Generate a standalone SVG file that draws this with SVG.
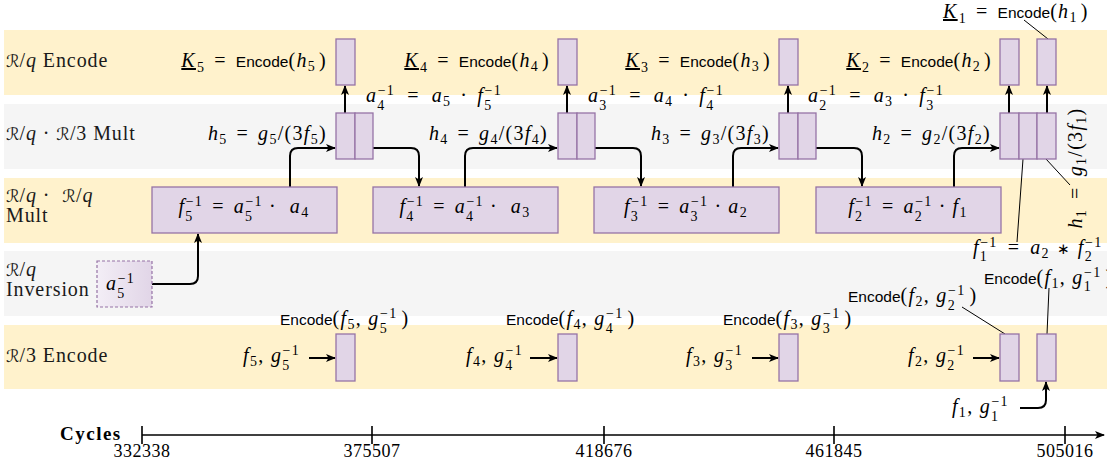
<svg xmlns="http://www.w3.org/2000/svg" width="1107" height="465" viewBox="0 0 1107 465">
<style>
.lane-y{fill:#fff2cc}
.lane-g{fill:#f5f5f5}
.box{fill:#e1d5e7;stroke:#9673a6;stroke-width:1.3}
.inv{fill:url(#invg);stroke:#9673a6;stroke-width:1.2;stroke-dasharray:3 2}
.lane{font-family:"Liberation Serif",serif;font-size:20px;letter-spacing:0.9px;fill:#1a1a1a}
.cal{font-family:"DejaVu Serif","DejaVu Sans",serif;font-size:17px;font-style:normal;letter-spacing:0}
.i{font-style:italic}
.m{font-family:"Liberation Serif",serif;font-size:20px;font-style:italic;letter-spacing:1.3px;fill:#000}
.u{font-style:normal}
.sb{font-size:14px;font-style:normal}
.ast{font-family:"DejaVu Sans",sans-serif;font-size:15px;font-style:normal}
.sf{font-family:"Liberation Sans",sans-serif;font-size:15.5px;font-style:normal;letter-spacing:0}
.conn{fill:none;stroke:#000;stroke-width:2;marker-end:url(#ah)}
.lead{fill:none;stroke:#000;stroke-width:1}
.ax{fill:none;stroke:#000;stroke-width:1.6}
.axl{font-family:"Liberation Serif",serif;font-size:18px;letter-spacing:0.5px;fill:#000}
.cyc{font-family:"Liberation Serif",serif;font-size:19px;font-weight:bold;letter-spacing:1.5px;fill:#000}
</style>
<defs>
<linearGradient id="invg" x1="0" y1="0" x2="1" y2="0">
<stop offset="0" stop-color="#f3eef6"/>
<stop offset="1" stop-color="#e1d5e7"/>
</linearGradient>
<marker id="ah" viewBox="0 0 10 8" refX="9" refY="4" markerWidth="10" markerHeight="8" markerUnits="userSpaceOnUse" orient="auto">
<path d="M0,0 L10,4 L0,8 L2.5,4 z" fill="#000"/>
</marker>
</defs>

<g id="lanes">
<rect class="lane-y" x="4" y="30" width="1103" height="65"/>
<rect class="lane-g" x="4" y="104" width="1103" height="65"/>
<rect class="lane-y" x="4" y="178" width="1103" height="65"/>
<rect class="lane-g" x="4" y="251" width="1103" height="65"/>
<rect class="lane-y" x="4" y="325" width="1103" height="64"/>
<text class="lane" x="6" y="67"><tspan class="cal">ℛ</tspan>/<tspan class="i">q</tspan> Encode</text>
<text class="lane" x="6" y="140"><tspan class="cal">ℛ</tspan>/<tspan class="i">q</tspan> · <tspan class="cal">ℛ</tspan>/3 Mult</text>
<text class="lane" x="6" y="202"><tspan class="cal">ℛ</tspan>/<tspan class="i">q</tspan> ·  <tspan class="cal" dx="6">ℛ</tspan>/<tspan class="i">q</tspan></text>
<text class="lane" x="6" y="222">Mult</text>
<text class="lane" x="6" y="276"><tspan class="cal">ℛ</tspan>/<tspan class="i">q</tspan></text>
<text class="lane" x="6" y="296">Inversion</text>
<text class="lane" x="6" y="362"><tspan class="cal">ℛ</tspan>/3 Encode</text>
</g>

<g id="connectors">
<path class="conn" d="M345 113 V86"/>
<path class="conn" d="M567 113 V86"/>
<path class="conn" d="M788 113 V86"/>
<path class="conn" d="M1009 113 V86"/>
<path class="conn" d="M1047 113 V86"/>
<path class="conn" d="M290 187 V156 Q290 148 298 148 H335"/>
<path class="conn" d="M373 148 H411 Q419 148 419 156 V186"/>
<path class="conn" d="M465 187 V156 Q465 148 473 148 H557"/>
<path class="conn" d="M595 148 H633 Q641 148 641 156 V186"/>
<path class="conn" d="M733 187 V156 Q733 148 741 148 H778"/>
<path class="conn" d="M816 148 H854 Q862 148 862 156 V186"/>
<path class="conn" d="M954 187 V156 Q954 148 962 148 H999"/>
<path class="conn" d="M152 284 H190 Q198 284 198 276 V234"/>
<path class="conn" d="M309 358 H335"/>
<path class="conn" d="M530 358 H557"/>
<path class="conn" d="M752 358 H778"/>
<path class="conn" d="M973 358 H999"/>
<path class="conn" d="M1020 408 H1038 Q1046 408 1046 400 V382"/>
<path class="lead" d="M1024 20 L1048 39"/>
<path class="lead" d="M1046 159 L1070 185"/>
<path class="lead" d="M1023 159 L1017 242"/>
<path class="lead" d="M962 307 L1005 334"/>
<path class="lead" d="M1049 288 L1047 334"/>
</g>

<g id="enc-k5">
<rect class="box" x="336" y="39" width="19" height="46"/>
<text class="m" x="327" y="67" text-anchor="end"><tspan text-decoration="underline">K</tspan><tspan class="sb" dx="1" dy="5">5</tspan><tspan class="u" dx="9" dy="-5">=</tspan><tspan class="sf" dx="9">Encode</tspan><tspan class="u">(</tspan>h<tspan class="sb" dy="4">5</tspan><tspan class="u" dx="3" dy="-4">)</tspan></text>
</g>
<g id="enc-k4">
<rect class="box" x="558" y="39" width="19" height="46"/>
<text class="m" x="550" y="67" text-anchor="end"><tspan text-decoration="underline">K</tspan><tspan class="sb" dx="1" dy="5">4</tspan><tspan class="u" dx="9" dy="-5">=</tspan><tspan class="sf" dx="9">Encode</tspan><tspan class="u">(</tspan>h<tspan class="sb" dy="4">4</tspan><tspan class="u" dx="3" dy="-4">)</tspan></text>
</g>
<g id="enc-k3">
<rect class="box" x="779" y="39" width="19" height="46"/>
<text class="m" x="771" y="67" text-anchor="end"><tspan text-decoration="underline">K</tspan><tspan class="sb" dx="1" dy="5">3</tspan><tspan class="u" dx="9" dy="-5">=</tspan><tspan class="sf" dx="9">Encode</tspan><tspan class="u">(</tspan>h<tspan class="sb" dy="4">3</tspan><tspan class="u" dx="3" dy="-4">)</tspan></text>
</g>
<g id="enc-k2">
<rect class="box" x="1000" y="39" width="19" height="46"/>
<text class="m" x="992" y="67" text-anchor="end"><tspan text-decoration="underline">K</tspan><tspan class="sb" dx="1" dy="5">2</tspan><tspan class="u" dx="9" dy="-5">=</tspan><tspan class="sf" dx="9">Encode</tspan><tspan class="u">(</tspan>h<tspan class="sb" dy="4">2</tspan><tspan class="u" dx="3" dy="-4">)</tspan></text>
</g>
<g id="enc-k1">
<rect class="box" x="1037" y="39" width="19" height="46"/>
<text class="m" x="943" y="18"><tspan text-decoration="underline">K</tspan><tspan class="sb" dx="1" dy="5">1</tspan><tspan class="u" dx="9" dy="-5">=</tspan><tspan class="sf" dx="9">Encode</tspan><tspan class="u">(</tspan>h<tspan class="sb" dy="4">1</tspan><tspan class="u" dx="3" dy="-4">)</tspan></text>
</g>

<g id="mult-h5">
<rect class="box" x="336" y="113" width="19" height="46"/>
<rect class="box" x="355" y="113" width="18" height="46"/>
<text class="m" x="327" y="140" text-anchor="end">h<tspan class="sb" dy="4">5</tspan><tspan class="u" dx="9" dy="-4">=</tspan><tspan dx="9">g</tspan><tspan class="sb" dy="4">5</tspan><tspan class="u" dy="-4">/(3</tspan>f<tspan class="sb" dy="4">5</tspan><tspan class="u" dy="-4">)</tspan></text>
</g>
<g id="mult-h4">
<rect class="box" x="558" y="113" width="19" height="46"/>
<rect class="box" x="577" y="113" width="18" height="46"/>
<text class="m" x="548" y="140" text-anchor="end">h<tspan class="sb" dy="4">4</tspan><tspan class="u" dx="9" dy="-4">=</tspan><tspan dx="9">g</tspan><tspan class="sb" dy="4">4</tspan><tspan class="u" dy="-4">/(3</tspan>f<tspan class="sb" dy="4">4</tspan><tspan class="u" dy="-4">)</tspan></text>
<text class="m" x="366" y="102">a<tspan class="sb" dy="8">4</tspan><tspan class="sb" dx="-8" dy="-15">−1</tspan><tspan class="u" dx="12" dy="7">=</tspan><tspan dx="12">a</tspan><tspan class="sb" dy="4">5</tspan><tspan class="u" dx="9" dy="-4">·</tspan><tspan dx="9">f</tspan><tspan class="sb" dy="8">5</tspan><tspan class="sb" dx="-8" dy="-15">−1</tspan></text>
</g>
<g id="mult-h3">
<rect class="box" x="779" y="113" width="19" height="46"/>
<rect class="box" x="798" y="113" width="18" height="46"/>
<text class="m" x="770" y="140" text-anchor="end">h<tspan class="sb" dy="4">3</tspan><tspan class="u" dx="9" dy="-4">=</tspan><tspan dx="9">g</tspan><tspan class="sb" dy="4">3</tspan><tspan class="u" dy="-4">/(3</tspan>f<tspan class="sb" dy="4">3</tspan><tspan class="u" dy="-4">)</tspan></text>
<text class="m" x="588" y="102">a<tspan class="sb" dy="8">3</tspan><tspan class="sb" dx="-8" dy="-15">−1</tspan><tspan class="u" dx="12" dy="7">=</tspan><tspan dx="12">a</tspan><tspan class="sb" dy="4">4</tspan><tspan class="u" dx="9" dy="-4">·</tspan><tspan dx="9">f</tspan><tspan class="sb" dy="8">4</tspan><tspan class="sb" dx="-8" dy="-15">−1</tspan></text>
</g>
<g id="mult-h2">
<rect class="box" x="1000" y="113" width="19" height="46"/>
<rect class="box" x="1019" y="113" width="18" height="46"/>
<rect class="box" x="1037" y="113" width="19" height="46"/>
<text class="m" x="991" y="140" text-anchor="end">h<tspan class="sb" dy="4">2</tspan><tspan class="u" dx="9" dy="-4">=</tspan><tspan dx="9">g</tspan><tspan class="sb" dy="4">2</tspan><tspan class="u" dy="-4">/(3</tspan>f<tspan class="sb" dy="4">2</tspan><tspan class="u" dy="-4">)</tspan></text>
<text class="m" x="808" y="102">a<tspan class="sb" dy="8">2</tspan><tspan class="sb" dx="-8" dy="-15">−1</tspan><tspan class="u" dx="12" dy="7">=</tspan><tspan dx="12">a</tspan><tspan class="sb" dy="4">3</tspan><tspan class="u" dx="9" dy="-4">·</tspan><tspan dx="9">f</tspan><tspan class="sb" dy="8">3</tspan><tspan class="sb" dx="-8" dy="-15">−1</tspan></text>
<text class="m" transform="translate(1082 168) rotate(-90)" x="0" y="0" text-anchor="middle">h<tspan class="sb" dy="4">1</tspan><tspan class="u" dx="10" dy="-4">=</tspan><tspan dx="10">g</tspan><tspan class="sb" dy="4">1</tspan><tspan class="u" dy="-4">/(3</tspan>f<tspan class="sb" dy="4">1</tspan><tspan class="u" dy="-4">)</tspan></text>
<text class="m" x="973" y="254">f<tspan class="sb" dy="7">1</tspan><tspan class="sb" dx="-8" dy="-14">−1</tspan><tspan class="u" dx="10" dy="7">=</tspan><tspan dx="10">a</tspan><tspan class="sb" dy="4">2</tspan><tspan class="ast" dx="7" dy="-4">∗</tspan><tspan dx="7">f</tspan><tspan class="sb" dy="7">2</tspan><tspan class="sb" dx="-8" dy="-14">−1</tspan></text>
</g>

<g id="mulq-f5">
<rect class="box" x="152" y="187" width="185" height="46"/>
<text class="m" x="244" y="213" text-anchor="middle">f<tspan class="sb" dy="8">5</tspan><tspan class="sb" dx="-8" dy="-15">−1</tspan><tspan class="u" dx="9" dy="7">=</tspan><tspan dx="9">a</tspan><tspan class="sb" dy="8">5</tspan><tspan class="sb" dx="-8" dy="-15">−1</tspan><tspan class="u" dx="6" dy="7">·</tspan><tspan dx="13">a</tspan><tspan class="sb" dy="4">4</tspan></text>
</g>
<g id="mulq-f4">
<rect class="box" x="373" y="187" width="185" height="46"/>
<text class="m" x="465" y="213" text-anchor="middle">f<tspan class="sb" dy="8">4</tspan><tspan class="sb" dx="-8" dy="-15">−1</tspan><tspan class="u" dx="9" dy="7">=</tspan><tspan dx="9">a</tspan><tspan class="sb" dy="8">4</tspan><tspan class="sb" dx="-8" dy="-15">−1</tspan><tspan class="u" dx="6" dy="7">·</tspan><tspan dx="13">a</tspan><tspan class="sb" dy="4">3</tspan></text>
</g>
<g id="mulq-f3">
<rect class="box" x="594" y="187" width="185" height="46"/>
<text class="m" x="686" y="213" text-anchor="middle">f<tspan class="sb" dy="8">3</tspan><tspan class="sb" dx="-8" dy="-15">−1</tspan><tspan class="u" dx="9" dy="7">=</tspan><tspan dx="9">a</tspan><tspan class="sb" dy="8">3</tspan><tspan class="sb" dx="-8" dy="-15">−1</tspan><tspan class="u" dx="6" dy="7">·</tspan><tspan dx="6">a</tspan><tspan class="sb" dy="4">2</tspan></text>
</g>
<g id="mulq-f2">
<rect class="box" x="816" y="187" width="185" height="46"/>
<text class="m" x="908" y="213" text-anchor="middle">f<tspan class="sb" dy="8">2</tspan><tspan class="sb" dx="-8" dy="-15">−1</tspan><tspan class="u" dx="9" dy="7">=</tspan><tspan dx="9">a</tspan><tspan class="sb" dy="8">2</tspan><tspan class="sb" dx="-8" dy="-15">−1</tspan><tspan class="u" dx="6" dy="7">·</tspan><tspan dx="6">f</tspan><tspan class="sb" dy="4">1</tspan></text>
</g>

<g id="inv-a5">
<rect class="inv" x="97" y="261" width="55" height="46"/>
<text class="m" x="106" y="290">a<tspan class="sb" dy="8">5</tspan><tspan class="sb" dx="-8" dy="-15">−1</tspan></text>
</g>

<g id="enc3-f5">
<rect class="box" x="336" y="334" width="19" height="47"/>
<text class="m" x="300" y="362" text-anchor="end">f<tspan class="sb" dy="4">5</tspan><tspan class="u" dy="-4">, </tspan>g<tspan class="sb" dy="8">5</tspan><tspan class="sb" dx="-8" dy="-15">−1</tspan></text>
<text class="m" x="280" y="325"><tspan class="sf">Encode</tspan><tspan class="u">(</tspan>f<tspan class="sb" dy="4">5</tspan><tspan class="u" dy="-4">, </tspan>g<tspan class="sb" dy="8">5</tspan><tspan class="sb" dx="-8" dy="-15">−1</tspan><tspan class="u" dx="4" dy="7">)</tspan></text>
</g>
<g id="enc3-f4">
<rect class="box" x="558" y="334" width="19" height="47"/>
<text class="m" x="523" y="362" text-anchor="end">f<tspan class="sb" dy="4">4</tspan><tspan class="u" dy="-4">, </tspan>g<tspan class="sb" dy="8">4</tspan><tspan class="sb" dx="-8" dy="-15">−1</tspan></text>
<text class="m" x="506" y="325"><tspan class="sf">Encode</tspan><tspan class="u">(</tspan>f<tspan class="sb" dy="4">4</tspan><tspan class="u" dy="-4">, </tspan>g<tspan class="sb" dy="8">4</tspan><tspan class="sb" dx="-8" dy="-15">−1</tspan><tspan class="u" dx="4" dy="7">)</tspan></text>
</g>
<g id="enc3-f3">
<rect class="box" x="779" y="334" width="19" height="47"/>
<text class="m" x="743" y="362" text-anchor="end">f<tspan class="sb" dy="4">3</tspan><tspan class="u" dy="-4">, </tspan>g<tspan class="sb" dy="8">3</tspan><tspan class="sb" dx="-8" dy="-15">−1</tspan></text>
<text class="m" x="723" y="325"><tspan class="sf">Encode</tspan><tspan class="u">(</tspan>f<tspan class="sb" dy="4">3</tspan><tspan class="u" dy="-4">, </tspan>g<tspan class="sb" dy="8">3</tspan><tspan class="sb" dx="-8" dy="-15">−1</tspan><tspan class="u" dx="4" dy="7">)</tspan></text>
</g>
<g id="enc3-f2">
<rect class="box" x="1000" y="334" width="19" height="47"/>
<text class="m" x="965" y="362" text-anchor="end">f<tspan class="sb" dy="4">2</tspan><tspan class="u" dy="-4">, </tspan>g<tspan class="sb" dy="8">2</tspan><tspan class="sb" dx="-8" dy="-15">−1</tspan></text>
<text class="m" x="848" y="302"><tspan class="sf">Encode</tspan><tspan class="u">(</tspan>f<tspan class="sb" dy="4">2</tspan><tspan class="u" dy="-4">, </tspan>g<tspan class="sb" dy="8">2</tspan><tspan class="sb" dx="-8" dy="-15">−1</tspan><tspan class="u" dx="4" dy="7">)</tspan></text>
</g>
<g id="enc3-f1">
<rect class="box" x="1037" y="334" width="19" height="47"/>
<text class="m" x="952" y="413">f<tspan class="sb" dy="4">1</tspan><tspan class="u" dy="-4">, </tspan>g<tspan class="sb" dy="8">1</tspan><tspan class="sb" dx="-8" dy="-15">−1</tspan></text>
<text class="m" x="984" y="284"><tspan class="sf">Encode</tspan><tspan class="u">(</tspan>f<tspan class="sb" dy="4">1</tspan><tspan class="u" dy="-4">, </tspan>g<tspan class="sb" dy="7">1</tspan><tspan class="sb" dx="-8" dy="-14">−1</tspan><tspan class="u" dx="4" dy="7">)</tspan></text>
</g>

<g id="axis">
<path class="ax" d="M142 435 H1104" marker-end="url(#ah)"/>
<path class="ax" d="M142 426 V444 M372 426 V444 M604 426 V444 M834 426 V444 M1065 426 V444"/>
<text class="cyc" x="60" y="440">Cycles</text>
<text class="axl" x="142" y="457" text-anchor="middle">332338</text>
<text class="axl" x="372" y="457" text-anchor="middle">375507</text>
<text class="axl" x="604" y="457" text-anchor="middle">418676</text>
<text class="axl" x="834" y="457" text-anchor="middle">461845</text>
<text class="axl" x="1065" y="457" text-anchor="middle">505016</text>
</g>
</svg>
